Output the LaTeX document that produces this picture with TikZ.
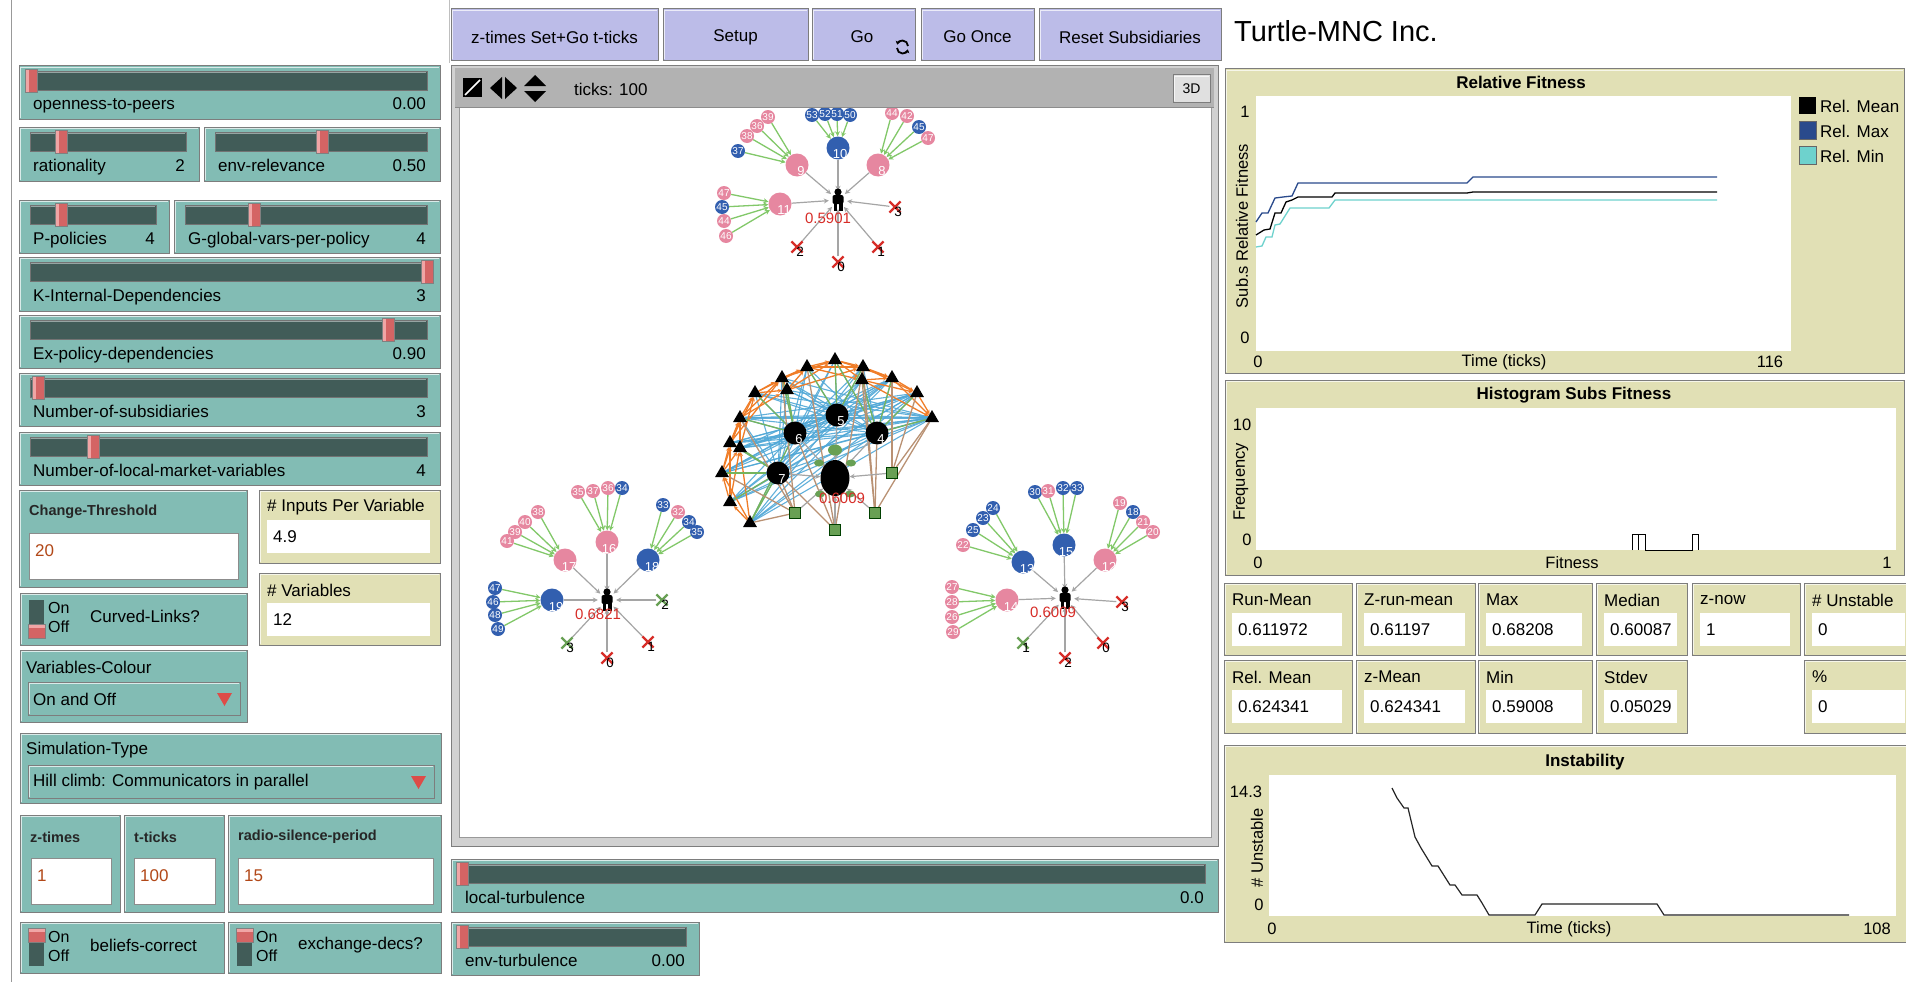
\documentclass[tikz,border=0pt]{standalone}
\usepackage{fontspec}
\setmainfont{Liberation Sans}
\usetikzlibrary{arrows.meta,shapes.geometric,shapes.misc}
\definecolor{nlteal}{RGB}{130,188,180}
\definecolor{nltrack}{RGB}{65,92,88}
\definecolor{nlthumb}{RGB}{212,100,100}
\definecolor{nlthumbhi}{RGB}{240,165,165}
\definecolor{nllav}{RGB}{188,188,232}
\definecolor{nlbeige}{RGB}{225,224,181}
\definecolor{nlbar}{RGB}{178,178,178}
\definecolor{nlval}{RGB}{178,72,24}
\definecolor{nlpink}{RGB}{230,135,160}
\definecolor{nlblue}{RGB}{50,95,175}
\definecolor{nlgreen}{RGB}{130,200,105}
\definecolor{nlred}{RGB}{215,45,40}
\definecolor{nlcyan}{RGB}{80,168,215}
\definecolor{nlorange}{RGB}{240,125,40}
\definecolor{nlbrown}{RGB}{185,145,115}
\definecolor{nlgrayedge}{RGB}{165,165,165}
\definecolor{nlplotblue}{RGB}{42,74,140}
\definecolor{nlplotcyan}{RGB}{110,210,205}
\definecolor{nlframe}{RGB}{125,125,125}
\pgfdeclarelayer{viewbg}
\pgfdeclarelayer{netedges}
\pgfsetlayers{viewbg,netedges,main}

\newcommand\nlbevel[5]{%
  \fill[#5] (#1,#2) rectangle (#3,#4);
  \draw[white!70!#5, line width=1.3pt] ({#1+1.5},{#4-1.5}) -- ({#1+1.5},{#2+1.5}) -- ({#3-1.5},{#2+1.5});
  \draw[nlframe, line width=1pt] (#1,#2) rectangle (#3,#4);
}
\newcommand\nlslider[7]{%
  \nlbevel{#1}{#2}{#3}{#4}{nlteal}
  \fill[nltrack] ({#1+11},{#2+5}) rectangle ({#3-13},{#2+24});
  \draw[black!55] ({#1+11},{#2+5}) rectangle ({#3-13},{#2+24});
  \draw[nltrack!55!white] ({#1+12},{#2+6.5}) -- ({#3-14},{#2+6.5});
  \fill[nlthumb] (#5,{#2+3}) rectangle ({#5+12},{#2+26});
  \fill[nlthumbhi] (#5,{#2+3}) rectangle ({#5+3.5},{#2+26});
  \draw[black!50] (#5,{#2+3}) rectangle ({#5+12},{#2+26});
  \node[txt,anchor=base west] at ({#1+14},{#2+44}) {#6};
  \node[txt,anchor=base east] at ({#3-14},{#2+44}) {#7};
}
\newcommand\nlinput[8]{%
  \nlbevel{#1}{#2}{#3}{#4}{nlteal}
  \node[lbl,anchor=west] at ({#1+10},{#2+22}) {#5};
  \fill[white] (#7,{#2+43}) rectangle (#8,{#2+89});
  \draw[black!45] (#7,{#2+43}) rectangle (#8,{#2+89});
  \node[txt,text=nlval,anchor=west] at ({#7+6},{#2+61}) {#6};
}
\newcommand\nlmonitor[6]{%
  \nlbevel{#1}{#2}{#3}{#4}{nlbeige}
  \node[txt,anchor=west] at ({#1+8},{#2+17}) {#5};
  \fill[white] ({#1+8},{#2+30}) rectangle ({#3-10},{#2+63});
  \node[txt,anchor=west] at ({#1+14},{#2+47}) {#6};
}
\newcommand\nlswitch[6]{%
  \nlbevel{#1}{#2}{#3}{#4}{nlteal}
  \fill[nltrack] ({#1+9},{#2+7}) rectangle ({#1+24},{#2+44});
  \fill[nlthumb] ({#1+8},{#2+#6}) rectangle ({#1+25},{#2+#6+14});
  \fill[nlthumbhi] ({#1+8},{#2+#6}) rectangle ({#1+25},{#2+#6+4});
  \draw[black!50] ({#1+8},{#2+#6}) rectangle ({#1+25},{#2+#6+14});
  \node[sw,anchor=west] at ({#1+28},{#2+15}) {On};
  \node[sw,anchor=west] at ({#1+28},{#2+34}) {Off};
  \node[txt,anchor=west] at ({#1+70},{#2+23}) {#5};
}
\newcommand\nlchooser[6]{%
  \nlbevel{#1}{#2}{#3}{#4}{nlteal}
  \node[txt,anchor=west] at ({#1+6},{#2+17}) {#5};
  \nlbevel{#1+8}{#2+32}{#3-7}{#2+65}{nlteal}
  \node[txt,anchor=west] at ({#1+13},{#2+49}) {#6};
  \fill[nlred!85!white] ({#3-30},{#2+43}) -- ({#3-15},{#2+43}) -- ({#3-22.5},{#2+56}) -- cycle;
}
\newcommand\nlbutton[5]{%
  \nlbevel{#1}{#2}{#3}{#4}{nllav}
  \node[txt] at ({(#1+#3)/2},{(#2+#4)/2+2}) {#5};
}
\newcommand\nlperson[2]{%
  \fill (#1,{#2-8}) circle (3.6);
  \fill[rounded corners=2pt] ({#1-5.5},{#2-5}) rectangle ({#1+5.5},{#2+4});
  \fill ({#1-4.5},{#2+3}) rectangle ({#1-0.8},{#2+11});
  \fill ({#1+0.8},{#2+3}) rectangle ({#1+4.5},{#2+11});
}
\newcommand\nlgroup[2]{%
  \foreach \px/\py/\pc/\pl in {#2} {%
    \node[smc, fill=\pc] (sm) at (\px,\py) {\pl};
    \begin{pgfonlayer}{netedges}\draw[gedge] (sm) -- (#1);\end{pgfonlayer}
  }%
}
\newcommand\nlpol[5]{%
  \node[xm=#4] (#1) at (#2,#3) {};
  \node[plab] at ({#2+3},{#3+5}) {#5};
}

\begin{document}
\begin{tikzpicture}[x=1pt,y=-1pt,
  txt/.style={font=\fontsize{17}{20}\selectfont, inner sep=0pt},
  lbl/.style={font=\fontsize{14.5}{17}\selectfont\bfseries, inner sep=0pt, text=black!85},
  sw/.style={font=\fontsize{16}{18}\selectfont, inner sep=0pt},
  ttl/.style={font=\fontsize{17}{20}\selectfont\bfseries, inner sep=0pt},
  axl/.style={font=\fontsize{16.5}{19}\selectfont, inner sep=0pt},
  bigc/.style={circle, minimum size=23pt, inner sep=0pt},
  smc/.style={circle, minimum size=14pt, inner sep=0pt, font=\fontsize{10}{10}\selectfont, text=white},
  nlab/.style={font=\fontsize{13}{13}\selectfont, text=white, inner sep=0pt},
  plab/.style={font=\fontsize{13.5}{13}\selectfont, text=black, inner sep=0pt},
  fitl/.style={font=\fontsize{15}{15}\selectfont, text=nlred, inner sep=0pt},
  person/.style={circle, minimum size=18pt, inner sep=0pt},
  xm/.style={cross out, draw=#1, line width=2.2pt, minimum size=9pt, inner sep=0pt},
  gedge/.style={draw=nlgreen, line width=1.3pt, -{Stealth[length=5pt,width=5pt]}},
  gredge/.style={draw=nlgrayedge, line width=1.2pt, -{Stealth[length=5pt,width=5pt]}},
  cyedge/.style={draw=nlcyan, line width=1.1pt, opacity=0.9},
  oredge/.style={draw=nlorange, line width=1.3pt, -{Stealth[length=4pt,width=4pt]}},
  grnedge/.style={draw=nlgreen!90!black, line width=1.3pt},
  bredge/.style={draw=nlbrown, line width=1.3pt},
  tri/.style={regular polygon, regular polygon sides=3, fill=black, minimum size=16pt, inner sep=0pt},
  cube/.style={rectangle, fill=nlgreen!80!black, draw=green!25!black, minimum size=11pt, inner sep=0pt}
]
\useasboundingbox (0,0) rectangle (1906,982);
\begin{pgfonlayer}{viewbg}
  \fill[white] (0,0) rectangle (1906,982);
  \fill[black!18] (451,65) rectangle (1218,846);
  \draw[nlframe] (451,65) rectangle (1218,846);
  \fill[white] (459,107) rectangle (1211,837);
  \draw[black!40] (459,107) rectangle (1211,837);
\end{pgfonlayer}

% left panel frame
\draw[black!40, line width=1pt] (11,0) -- (11,982);
\draw[black!25, line width=1pt] (449,0) -- (449,63);

% sliders
\nlslider{19}{66}{440}{119}{25}{openness-to-peers}{0.00}
\nlslider{19}{127}{199}{181}{55}{rationality}{2}
\nlslider{204}{127}{440}{181}{316}{env-relevance}{0.50}
\nlslider{19}{200}{169}{253}{55}{P-policies}{4}
\nlslider{174}{200}{440}{253}{248}{G-global-vars-per-policy}{4}
\nlslider{19}{257}{440}{311}{421}{K-Internal-Dependencies}{3}
\nlslider{19}{315}{440}{368}{382}{Ex-policy-dependencies}{0.90}
\nlslider{19}{373}{440}{426}{32}{Number-of-subsidiaries}{3}
\nlslider{19}{432}{440}{485}{87}{Number-of-local-market-variables}{4}
\nlslider{451}{859}{1218}{912}{456}{local-turbulence}{0.0}
\nlslider{451}{922}{699}{975}{456}{env-turbulence}{0.00}

% inputs
\nlinput{19}{490}{247}{587}{Change-Threshold}{20}{29}{238}
\nlinput{20}{815}{120}{912}{z-times}{1}{31}{111}
\nlinput{124}{815}{224}{912}{t-ticks}{100}{134}{215}
\nlinput{228}{815}{441}{912}{radio-silence-period}{15}{238}{433}

% monitors left
\nlmonitor{259}{490}{440}{563}{\# Inputs Per Variable}{4.9}
\nlmonitor{259}{573}{440}{645}{\# Variables}{12}

% switches
\nlswitch{20}{593}{247}{645}{Curved-Links?}{31}
\nlswitch{20}{922}{224}{973}{beliefs-correct}{6}
\nlswitch{228}{922}{441}{973}{exchange-decs?}{6}

% choosers
\nlchooser{20}{650}{247}{722}{Variables-Colour}{On and Off}
\nlchooser{20}{733}{441}{803}{Simulation-Type}{Hill climb: Communicators in parallel}

% buttons
\nlbutton{451}{9}{658}{61}{z-times Set+Go t-ticks}
\nlbutton{663}{9}{808}{61}{Setup}
\nlbevel{812}{9}{915}{61}{nllav}
\node[txt] (gobtn) at (862,37) {Go};
\draw[line width=1.8pt, -{Stealth[length=3.5pt,width=5pt]}] (908,46) arc[start angle=0, end angle=-165, radius=5.5];
\draw[line width=1.8pt, -{Stealth[length=3.5pt,width=5pt]}] (897,48) arc[start angle=180, end angle=15, radius=5.5];
\nlbutton{921}{9}{1034}{61}{Go Once}
\nlbutton{1039}{9}{1221}{61}{Reset Subsidiaries}

% title
\node[font=\fontsize{29}{32}\selectfont, inner sep=0pt, anchor=west] (title) at (1234,31) {Turtle-MNC Inc.};

% ===================== network: top subsidiary =====================
\node[person] (PA) at (838,200) {};
\nlperson{838}{200}
\node[bigc,fill=nlpink] (A9) at (797,165) {};
\node[bigc,fill=nlblue] (A10) at (838,148) {};
\node[bigc,fill=nlpink] (A8) at (878,165) {};
\node[bigc,fill=nlpink] (A11) at (780,204) {};
\node[nlab] at (801,171) {9};
\node[nlab] at (840,154) {10};
\node[nlab] at (882,171) {8};
\node[nlab] at (784,210) {11};
\nlgroup{A9}{768/117/nlpink/39, 757/126/nlpink/36, 747/136/nlpink/38, 738/151/nlblue/37}
\nlgroup{A10}{812/115/nlblue/53, 825/114/nlblue/52, 837/114/nlblue/51, 850/115/nlblue/50}
\nlgroup{A8}{892/113/nlpink/44, 907/116/nlpink/42, 919/127/nlblue/45, 928/138/nlpink/47}
\nlgroup{A11}{724/193/nlpink/47, 722/207/nlblue/45, 724/221/nlpink/44, 726/236/nlpink/46}
\nlpol{A3}{895}{207}{nlred}{3}
\nlpol{A1}{878}{247}{nlred}{1}
\nlpol{A0}{838}{262}{nlred}{0}
\nlpol{A2}{797}{247}{nlred}{2}
\begin{pgfonlayer}{netedges}
  \foreach \n in {A9,A10,A8,A11,A3,A1,A0,A2} {\draw[gredge] (\n) -- (PA);}
\end{pgfonlayer}
\node[fitl] at (828,218) {0.5901};

% ===================== bottom-left subsidiary =====================
\node[person] (PB) at (607,600) {};
\nlperson{607}{600}
\node[bigc,fill=nlpink] (B17) at (565,560) {};
\node[bigc,fill=nlpink] (B16) at (607,542) {};
\node[bigc,fill=nlblue] (B18) at (648,560) {};
\node[bigc,fill=nlblue] (B19) at (552,600) {};
\node[nlab] at (569,567) {17};
\node[nlab] at (609,549) {16};
\node[nlab] at (652,567) {18};
\node[nlab] at (556,607) {19};
\nlgroup{B17}{538/512/nlpink/38, 525/522/nlpink/40, 515/532/nlpink/39, 507/541/nlpink/41}
\nlgroup{B16}{578/492/nlpink/35, 593/491/nlpink/37, 608/488/nlpink/36, 622/488/nlblue/34}
\nlgroup{B18}{663/505/nlblue/33, 678/512/nlpink/32, 689/522/nlblue/34, 697/532/nlblue/35}
\nlgroup{B19}{495/588/nlblue/47, 493/602/nlblue/46, 495/615/nlblue/48, 498/629/nlblue/49}
\nlpol{B2}{662}{600}{nlgreen!80!black}{2}
\nlpol{B1}{648}{642}{nlred}{1}
\nlpol{B0}{607}{658}{nlred}{0}
\nlpol{B3}{567}{643}{nlgreen!80!black}{3}
\begin{pgfonlayer}{netedges}
  \foreach \n in {B17,B16,B18,B19,B2,B1,B0,B3} {\draw[gredge] (\n) -- (PB);}
\end{pgfonlayer}
\node[fitl] at (598,614) {0.6821};

% ===================== bottom-right subsidiary =====================
\node[person] (PC) at (1065,598) {};
\nlperson{1065}{598}
\node[bigc,fill=nlblue] (C13) at (1023,562) {};
\node[bigc,fill=nlblue] (C15) at (1064,545) {};
\node[bigc,fill=nlpink] (C12) at (1105,560) {};
\node[bigc,fill=nlpink] (C14) at (1007,600) {};
\node[nlab] at (1027,569) {13};
\node[nlab] at (1066,552) {15};
\node[nlab] at (1109,567) {12};
\node[nlab] at (1011,607) {14};
\nlgroup{C13}{993/508/nlblue/24, 983/518/nlblue/23, 973/530/nlblue/25, 963/545/nlpink/22}
\nlgroup{C15}{1035/492/nlblue/30, 1048/491/nlpink/31, 1063/488/nlblue/32, 1077/488/nlblue/33}
\nlgroup{C12}{1120/503/nlpink/19, 1133/512/nlblue/18, 1143/522/nlpink/21, 1153/532/nlpink/20}
\nlgroup{C14}{952/587/nlpink/27, 952/602/nlpink/28, 952/617/nlpink/26, 953/632/nlpink/29}
\nlpol{C3}{1122}{602}{nlred}{3}
\nlpol{C0}{1103}{643}{nlred}{0}
\nlpol{C2}{1065}{658}{nlred}{2}
\nlpol{C1}{1023}{643}{nlgreen!80!black}{1}
\begin{pgfonlayer}{netedges}
  \foreach \n in {C13,C15,C12,C14,C3,C0,C2,C1} {\draw[gredge] (\n) -- (PC);}
\end{pgfonlayer}
\node[fitl] at (1053,612) {0.6009};

% ===================== central network =====================
\foreach \px/\py [count=\i] in {750/523, 730/502, 722/473, 740/448, 730/443, 740/418, 755/393, 782/378, 787/390, 807/367, 835/360, 863/367, 862/380, 892/378, 917/393, 932/418} {
  \node[tri] (t\i) at (\px,\py) {};
}
\node[bigc,fill=black] (k5) at (837,415) {};
\node[bigc,fill=black] (k6) at (795,433) {};
\node[bigc,fill=black] (k4) at (877,433) {};
\node[bigc,fill=black] (k7) at (778,473) {};
\node[nlab] at (841,421) {5};
\node[nlab] at (799,439) {6};
\node[nlab] at (881,439) {4};
\node[nlab] at (782,479) {7};
\node[cube] (cu1) at (892,473) {};
\node[cube] (cu2) at (795,513) {};
\node[cube] (cu3) at (875,513) {};
\node[cube] (cu4) at (835,530) {};
\fill[nlgreen!80!black] (835,450) ellipse (7 and 5.5);
\fill[nlgreen!80!black] (819,463) ellipse (5 and 3.5);
\fill[nlgreen!80!black] (851,463) ellipse (5 and 3.5);
\fill[nlgreen!80!black] (820,494) ellipse (5 and 3.5);
\fill[nlgreen!80!black] (850,494) ellipse (5 and 3.5);
\node[ellipse, fill=black, minimum width=29pt, minimum height=36pt, inner sep=0pt] (T) at (835,478) {};
\begin{pgfonlayer}{netedges}
  \foreach \i in {1,...,16} {\foreach \k in {k4,k5,k6,k7} {\draw[cyedge] (t\i) -- (\k);}}
  \foreach \i in {1,...,9} {\draw[cyedge] (t\i) -- (t16);}
  \foreach \i in {1,...,6} {\draw[cyedge] (t\i) -- (t15);}
  \foreach \i in {1,...,4} {\draw[cyedge] (t\i) -- (t14);}
  \foreach \i [evaluate=\i as \j using int(\i+1)] in {1,...,15} {\draw[oredge] (t\i) -- (t\j);}
  \foreach \i [evaluate=\i as \j using int(\i+2)] in {1,...,14} {\draw[oredge] (t\i) -- (t\j);}
  \foreach \i [evaluate=\i as \j using int(\i+3)] in {1,...,13} {\draw[oredge] (t\i) -- (t\j);}
  \foreach \a/\b in {t11/k5, t10/k5, t12/k5, t8/k6, t9/k6, t7/k6, t14/k4, t13/k4, t15/k4, t3/k7, t2/k7, t4/k7, t1/k7, t16/k4, t6/k6, t5/k7, t1/k6, t11/k4}
    {\draw[grnedge] (\a) -- (\b);}
  \foreach \a/\b in {cu2/t6, cu2/t8, cu2/k7, cu2/t3, cu3/t13, cu3/t16, cu3/k4, cu3/t12, cu4/t10, cu4/t12, cu4/k6, cu1/t14, cu1/t15, cu1/t16, cu4/k7, cu2/t1}
    {\draw[bredge] (\a) -- (\b);}
  \foreach \a in {k5,k6,k4,k7,cu1,cu2,cu3,cu4} {\draw[gredge] (\a) -- (T);}
\end{pgfonlayer}
\node[fitl] at (842,498) {0.6009};

% view top bar (drawn over network to cut it)
\fill[nlbar] (455,68) rectangle (1214,107);
\draw[black!45] (455,107) -- (1214,107);
\fill (463,78) rectangle (482,97);
\draw[white, line width=1.6pt] (465,95) -- (480,80);
\fill (490,88) -- (502,77) -- (502,99) -- cycle;
\fill (517,88) -- (505,77) -- (505,99) -- cycle;
\fill (535,75) -- (524,86) -- (546,86) -- cycle;
\fill (535,102) -- (524,91) -- (546,91) -- cycle;
\node[txt, anchor=west] (ticks) at (574,89) {ticks: 100};
\nlbevel{1173}{75}{1210}{102}{black!12}
\node[font=\fontsize{14}{16}\selectfont, inner sep=0pt] (threed) at (1191.5,89) {3D};

% ===================== Relative Fitness plot =====================
\nlbevel{1225}{69}{1904}{373}{nlbeige}
\fill[white] (1256,96) rectangle (1791,351);
\node[ttl] (rft) at (1521,82) {Relative Fitness};
\node[axl] at (1245,112) {1};
\node[axl] at (1245,338) {0};
\node[axl] at (1258,362) {0};
\node[axl] at (1504,362) {Time (ticks)};
\node[axl] at (1770,362) {116};
\node[axl, rotate=90] at (1242,226) {Sub.s Relative Fitness};
\fill[black] (1799,97) rectangle (1816,114);
\fill[nlplotblue] (1799,121) rectangle (1816,139);
\fill[nlplotcyan] (1799,146) rectangle (1816,164);
\draw[black!60] (1799,121) rectangle (1816,139) (1799,146) rectangle (1816,164);
\node[txt, anchor=west] at (1820,106) {Rel. Mean};
\node[txt, anchor=west] at (1820,131) {Rel. Max};
\node[txt, anchor=west] at (1820,156) {Rel. Min};
\draw[nlplotblue, line width=1.3pt] plot coordinates {(1256,222) (1262,213) (1268,213) (1275,198) (1283,197) (1292,196) (1298,183) (1467,183) (1473,177) (1717,177)};
\draw[black, line width=1.3pt] plot coordinates {(1256,235) (1264,230) (1270,229) (1275,213) (1281,213) (1286,202) (1292,200) (1298,197) (1332,197) (1335,193) (1467,193) (1473,192) (1717,192)};
\draw[nlplotcyan, line width=1.3pt] plot coordinates {(1256,247) (1262,246) (1266,237) (1272,237) (1275,225) (1280,224) (1290,208) (1329,208) (1335,200) (1717,200)};

% ===================== Histogram =====================
\nlbevel{1225}{380}{1904}{575}{nlbeige}
\fill[white] (1256,408) rectangle (1896,550);
\node[ttl] (hst) at (1574,395) {Histogram Subs Fitness};
\node[axl] at (1242,425) {10};
\node[axl] at (1247,540) {0};
\node[axl, rotate=90] at (1241,482) {Frequency};
\node[axl] at (1258,563) {0};
\node[axl] at (1572,563) {Fitness};
\node[axl] at (1887,563) {1};
\draw[line width=1pt] (1632,550) -- (1632,534) -- (1645,534) -- (1645,550) -- (1692,550) -- (1692,534) -- (1698,534) -- (1698,550);
\draw[line width=1pt] (1638,534) -- (1638,550);

% ===================== monitors right =====================
\nlmonitor{1224}{583}{1352}{655}{Run-Mean}{0.611972}
\nlmonitor{1356}{583}{1475}{655}{Z-run-mean}{0.61197}
\nlmonitor{1478}{583}{1592}{655}{Max}{0.68208}
\nlmonitor{1596}{583}{1687}{655}{Median}{0.60087}
\nlmonitor{1692}{583}{1800}{655}{z-now}{1}
\nlmonitor{1804}{583}{1915}{655}{\# Unstable}{0}
\nlmonitor{1224}{660}{1352}{733}{Rel. Mean}{0.624341}
\nlmonitor{1356}{660}{1475}{733}{z-Mean}{0.624341}
\nlmonitor{1478}{660}{1592}{733}{Min}{0.59008}
\nlmonitor{1596}{660}{1687}{733}{Stdev}{0.05029}
\nlmonitor{1804}{660}{1915}{733}{\%}{0}

% ===================== Instability =====================
\nlbevel{1224}{745}{1915}{942}{nlbeige}
\fill[white] (1269,775) rectangle (1896,916);
\node[ttl] (ist) at (1585,762) {Instability};
\node[axl] at (1246,792) {14.3};
\node[axl] at (1259,905) {0};
\node[axl, rotate=90] at (1257,848) {\# Unstable};
\node[axl] at (1272,929) {0};
\node[axl] at (1569,929) {Time (ticks)};
\node[axl] at (1877,929) {108};
\draw[black!85, line width=1.2pt] plot coordinates {(1392,788) (1397,798) (1404,808) (1408,808) (1415,837) (1421,848) (1432,866) (1438,866) (1450,885) (1455,885) (1462,895) (1477,895) (1482,903) (1489,915) (1535,915) (1542,904) (1657,904) (1664,915) (1849,915)};
\end{tikzpicture}
\end{document}
